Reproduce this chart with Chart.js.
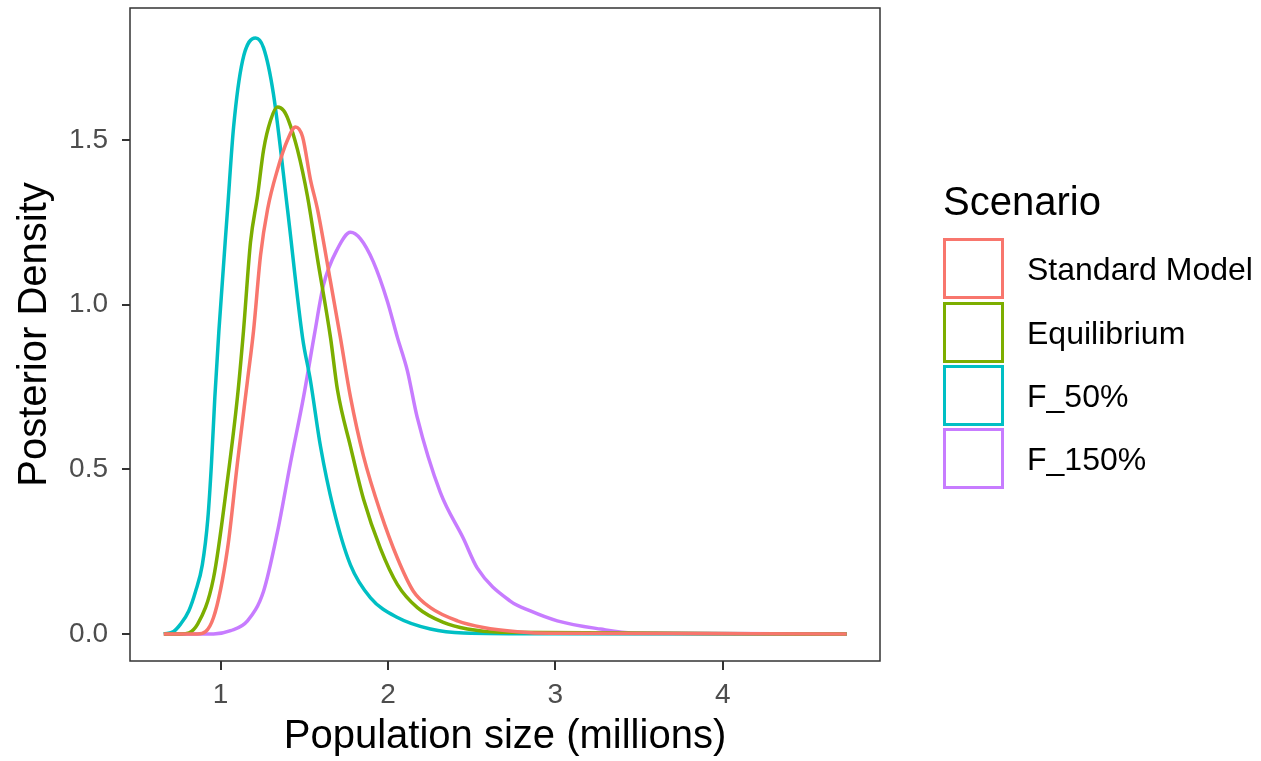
<!DOCTYPE html>
<html>
<head>
<meta charset="utf-8">
<script src="https://cdn.jsdelivr.net/npm/chart.js@4.4.1/dist/chart.umd.min.js"></script>
<style>
	body { margin:0; background:#fff; }
	#wrap { position:relative; width:1261px; height:761px; font-family:'Liberation Sans', Arial, sans-serif; }
	#legend .ttl { position:absolute; left:943px; top:181px; font-size:40px; line-height:40px; color:#000; }
	#legend .key { position:absolute; left:943px; width:55px; height:55px; border:3px solid; box-sizing:content-box; }
	#legend .lab { position:absolute; left:1027px; font-size:32px; line-height:32px; color:#000; }
</style>
</head>
<body>
<div id="wrap">
	<canvas id="densChart" width="1261" height="761"></canvas>
	<div id="legend"></div>
</div>
<script>
// series (x in millions, y density)
var scenarios = ['Standard Model', 'Equilibrium', 'F_50%', 'F_150%']
var colors = ['#F8766D', '#7CAE00', '#00BFC4', '#C77CFF']

var stdX = [0.661, 0.863, 0.958, 1.042, 1.101, 1.161, 1.197, 1.239, 1.281, 1.340, 1.400, 1.448, 1.490, 1.537, 1.579, 1.657, 1.716, 1.776, 1.854, 1.955, 2.057, 2.152, 2.254, 2.415, 2.570, 2.773, 2.970, 4.741]
var stdY = [0, 0, 0.05, 0.26, 0.52, 0.77, 0.92, 1.15, 1.29, 1.41, 1.50, 1.54, 1.51, 1.38, 1.29, 1.07, 0.90, 0.72, 0.54, 0.37, 0.23, 0.13, 0.08, 0.04, 0.02, 0.007, 0.002, 0]

var eqX = [0.661, 0.762, 0.863, 0.958, 1.042, 1.101, 1.137, 1.179, 1.221, 1.257, 1.299, 1.340, 1.376, 1.406, 1.460, 1.519, 1.579, 1.657, 1.699, 1.776, 1.854, 1.955, 2.057, 2.176, 2.331, 2.475, 2.672, 4.741]
var eqY = [0, 0, 0.03, 0.17, 0.47, 0.72, 0.92, 1.19, 1.33, 1.47, 1.56, 1.60, 1.59, 1.56, 1.47, 1.33, 1.14, 0.90, 0.74, 0.57, 0.41, 0.26, 0.15, 0.08, 0.035, 0.015, 0.005, 0]

var f50X = [0.661, 0.72, 0.761, 0.81, 0.851, 0.891, 0.924, 0.946, 0.966, 0.990, 1.042, 1.078, 1.131, 1.209, 1.257, 1.316, 1.400, 1.490, 1.537, 1.597, 1.675, 1.776, 1.896, 2.057, 2.254, 2.451, 3.0, 4.741]
var f50Y = [0, 0.008, 0.03, 0.07, 0.13, 0.21, 0.35, 0.52, 0.72, 0.92, 1.29, 1.54, 1.74, 1.81, 1.78, 1.64, 1.29, 0.90, 0.77, 0.57, 0.38, 0.21, 0.11, 0.05, 0.015, 0.003, 0.0005, 0]

var f150X = [0.661, 0.958, 1.060, 1.161, 1.257, 1.340, 1.418, 1.496, 1.561, 1.615, 1.699, 1.776, 1.836, 1.913, 1.997, 2.057, 2.116, 2.174, 2.313, 2.451, 2.534, 2.731, 2.851, 3.012, 3.269, 3.466, 4.741]
var f150Y = [0, 0, 0.01, 0.04, 0.13, 0.31, 0.52, 0.72, 0.91, 1.06, 1.17, 1.22, 1.20, 1.13, 1.01, 0.90, 0.80, 0.66, 0.43, 0.29, 0.20, 0.10, 0.07, 0.04, 0.015, 0.003, 0]

var xTicks = [1, 2, 3, 4]
var yTicks = [0, 0.5, 1.0, 1.5]

function toPts( xs, ys ) {
	var pts = []
	for( var i = 0; i < xs.length; i++ ) {
		pts.push({ x:xs[i], y:ys[i] })
	}
	return pts
}

var seriesX = [stdX, eqX, f50X, f150X]
var seriesY = [stdY, eqY, f50Y, f150Y]
var datasets = []
for( var i = 0; i < scenarios.length; i++ ) {
	datasets.push({
		label: scenarios[i],
		data: toPts(seriesX[i], seriesY[i]),
		borderColor: colors[i],
		backgroundColor: colors[i],
		borderWidth: 3.5,
		pointRadius: 0,
		fill: false,
		cubicInterpolationMode: 'monotone'
	})
}

var tickFont = { family:"'Liberation Sans', Arial, sans-serif", size:28 }
var titleFont = { family:"'Liberation Sans', Arial, sans-serif", size:40, lineHeight:1 }

// panel border like ggplot theme_bw
var panelBox = {
	id: 'panelBox',
	afterDraw: function( chart ) {
		var a = chart.chartArea
		var c = chart.ctx
		c.save()
		c.strokeStyle = '#333333'
		c.lineWidth = 1.5
		c.strokeRect(a.left, a.top, a.right - a.left, a.bottom - a.top)
		c.restore()
	}
}

var ctx = document.getElementById('densChart')
var myChart = new Chart( ctx, {
	type: 'line',
	data: { datasets: datasets },
	plugins: [panelBox],
	options: {
		responsive: false,
		animation: false,
		layout: { padding: { top:8, right:381, left:0, bottom:0 } },
		plugins: { legend: { display:false }, tooltip: { enabled:false } },
		scales: {
			x: {
				type: 'linear',
				min: 0.459, max: 4.94,
				afterBuildTicks: function( s ) { s.ticks = xTicks.map(function(v){ return { value:v } }) },
				afterFit: function( s ) { s.height = 100; s.paddingLeft = 0; s.paddingRight = 0 },
				ticks: { font:tickFont, color:'#4D4D4D', padding:8, maxRotation:0,
					callback: function( v ) { return String(v) } },
				grid: { drawOnChartArea:false, drawTicks:true, tickLength:9, color:'#333333', lineWidth:2 },
				border: { display:false },
				title: { display:true, text:'Population size (millions)', color:'#000', font:titleFont, padding:{ top:0, bottom:4 } }
			},
			y: {
				min: -0.082, max: 1.901,
				afterBuildTicks: function( s ) { s.ticks = yTicks.map(function(v){ return { value:v } }) },
				afterFit: function( s ) { s.width = 130; s.paddingTop = 0; s.paddingBottom = 0 },
				ticks: { font:tickFont, color:'#4D4D4D', padding:14,
					callback: function( v ) { return Number(v).toFixed(1) } },
				grid: { drawOnChartArea:false, drawTicks:true, tickLength:8, color:'#333333', lineWidth:2 },
				border: { display:false },
				title: { display:true, text:'Posterior Density', color:'#000', font:titleFont, padding:{ top:15, bottom:0 } }
			}
		}
	}
})

// legend drawn as html beside the panel
var leg = document.getElementById('legend')
var html = '<div class="ttl">Scenario</div>'
var keyTops = [238, 302, 365, 428]
for( var j = 0; j < scenarios.length; j++ ) {
	html += '<div class="key" style="top:' + keyTops[j] + 'px;border-color:' + colors[j] + '"></div>'
	html += '<div class="lab" style="top:' + (keyTops[j] + 15) + 'px">' + scenarios[j] + '</div>'
}
leg.innerHTML = html
</script>
</body>
</html>
